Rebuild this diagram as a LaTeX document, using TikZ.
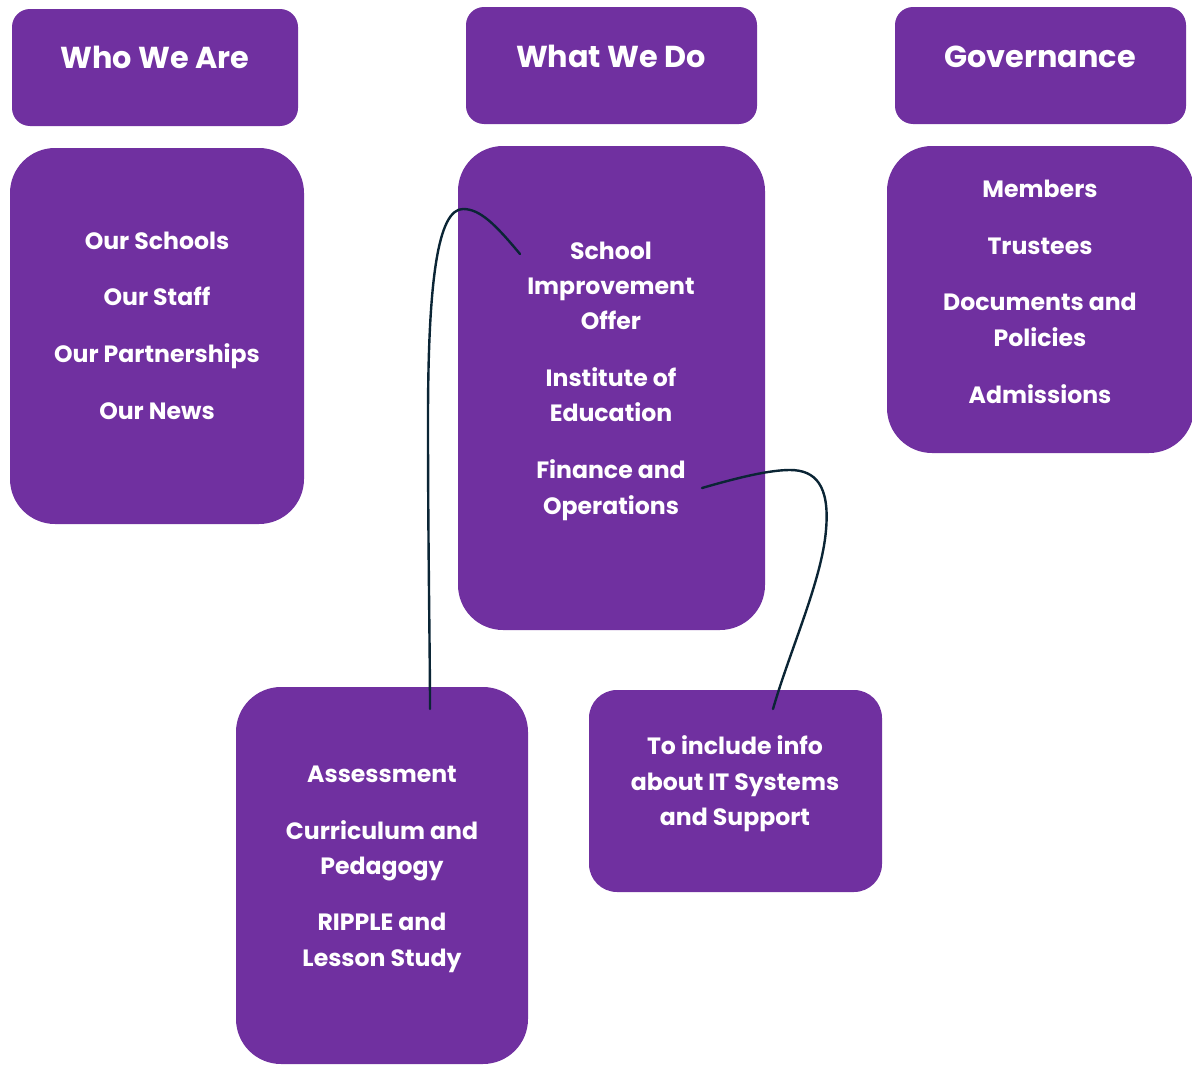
\documentclass[tikz,border=0pt]{standalone}
\usepackage{fontspec}
\setmainfont{Poppins}
\definecolor{boxpurple}{HTML}{7030A0}
\definecolor{linknavy}{HTML}{0B2535}
\begin{document}
\begin{tikzpicture}[x=1pt,y=-1pt,
  hdr/.style={fill=boxpurple,rounded corners=18pt,inner sep=0pt,draw=none},
  body/.style={fill=boxpurple,rounded corners=45pt,inner sep=0pt,draw=none},
  htext/.style={text=white,font=\fontsize{30.3}{34}\selectfont\bfseries,anchor=base,inner sep=0pt},
  itext/.style={text=white,font=\fontsize{23.6}{27}\selectfont\bfseries,anchor=base,inner sep=0pt},
  link/.style={draw=linknavy,line width=2.4pt,line cap=round}]
\useasboundingbox (0,0) rectangle (1192,1068);
% headers
\node[hdr,minimum width=286pt,minimum height=117pt] (h1) at (155,67.5) {};
\node[hdr,minimum width=291pt,minimum height=117pt] (h2) at (611.5,65.5) {};
\node[hdr,minimum width=291pt,minimum height=117pt] (h3) at (1040.5,65.5) {};
\node[htext] (t1) at (155,68) {Who We Are};
\node[htext] (t2) at (611,67) {What We Do};
\node[htext] (t3) at (1040,67) {Governance};
% bodies
\node[body,minimum width=294pt,minimum height=376pt] (b1) at (157,336) {};
\node[body,minimum width=307pt,minimum height=484pt] (b2) at (611.5,388) {};
\node[body,minimum width=307pt,minimum height=307pt] (b3) at (1040.5,299.5) {};
\node[body,minimum width=292pt,minimum height=377pt] (b4) at (382,875.5) {};
\node[fill=boxpurple,rounded corners=28pt,inner sep=0pt,minimum width=293pt,minimum height=202pt] (b5) at (735.5,791) {};
% box 1 items
\node[itext] (a1) at (157,249) {Our Schools};
\node[itext] (a2) at (157,305) {Our Staff};
\node[itext] (a3) at (157,362) {Our Partnerships};
\node[itext] (a4) at (157,419) {Our News};
% box 2 items
\node[itext] (c1) at (611,259) {School};
\node[itext] (c2) at (611,294) {Improvement};
\node[itext] (c3) at (611,329) {Offer};
\node[itext] (c4) at (611,386) {Institute of};
\node[itext] (c5) at (611,421) {Education};
\node[itext] (c6) at (611,478) {Finance and};
\node[itext] (c7) at (611,514) {Operations};
% box 3 items
\node[itext] (d1) at (1040,197) {Members};
\node[itext] (d2) at (1040,254) {Trustees};
\node[itext] (d3) at (1040,310) {Documents and};
\node[itext] (d4) at (1040,346) {Policies};
\node[itext] (d5) at (1040,403) {Admissions};
% box 4 items
\node[itext] (e1) at (382,782) {Assessment};
\node[itext] (e2) at (382,839) {Curriculum and};
\node[itext] (e3) at (382,874) {Pedagogy};
\node[itext] (e4) at (382,930) {RIPPLE and};
\node[itext] (e5) at (382,966) {Lesson Study};
% box 5 items
\node[itext] (f1) at (735,754) {To include info};
\node[itext] (f2) at (735,790) {about IT Systems};
\node[itext] (f3) at (735,825) {and Support};
% connector ends
\coordinate (l1s) at (520,254);
\coordinate (l1e) at (430,709);
\coordinate (l2s) at (702,488);
\coordinate (l2e) at (773,709);
\draw[link] (l1s) .. controls (495,224) and (480,209) .. (463,209)
  .. controls (438,209) and (428,280) .. (428,420)
  .. controls (428,550) and (430,650) .. (l1e);
\draw[link] (l2s) .. controls (740,477) and (770,470) .. (790,470)
  .. controls (815,470) and (830,485) .. (826,530)
  .. controls (822,580) and (790,650) .. (l2e);
\end{tikzpicture}
\end{document}
